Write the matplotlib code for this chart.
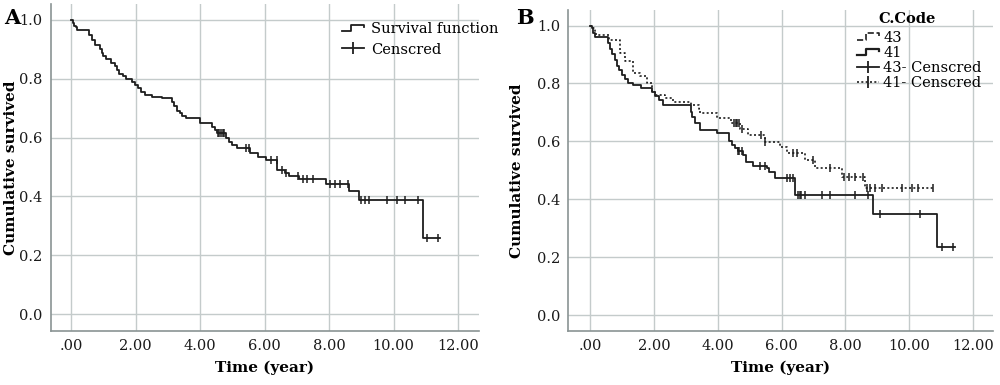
import numpy as np
import matplotlib
matplotlib.use("Agg")
import matplotlib.pyplot as plt
from matplotlib.lines import Line2D
from matplotlib.legend_handler import HandlerBase

plt.rcParams['font.family'] = ['DejaVu Serif']

# ---- panel A: whole cohort ----
a_times = [0.05, 0.10, 0.15, 0.20, 0.55, 0.65, 0.75, 0.90, 0.95, 1.00, 1.10, 1.25,
           1.35, 1.42, 1.50, 1.60, 1.70, 1.90, 1.97, 2.07, 2.17, 2.30, 2.50, 2.82,
           3.12, 3.20, 3.30, 3.38, 3.45, 3.55, 4.00, 4.38, 4.45, 4.52, 4.80, 4.90,
           5.00, 5.15, 5.55, 5.80, 6.05, 6.40, 6.62, 6.75, 7.08, 7.90, 8.62, 8.92,
           10.92]
a_surv = [0.99, 0.98, 0.975, 0.965, 0.948, 0.93, 0.915, 0.90, 0.887, 0.876, 0.865, 0.853,
          0.842, 0.83, 0.814, 0.808, 0.80, 0.79, 0.778, 0.767, 0.755, 0.744, 0.739, 0.733,
          0.722, 0.706, 0.689, 0.682, 0.673, 0.665, 0.65, 0.637, 0.625, 0.614, 0.597, 0.586,
          0.575, 0.563, 0.546, 0.535, 0.524, 0.49, 0.48, 0.47, 0.458, 0.441, 0.419, 0.388,
          0.258]
a_end = 11.45
a_cens = [4.55, 4.60, 4.65, 4.70, 4.75, 5.42, 5.52, 6.20, 6.38, 6.55, 6.66, 7.05,
          7.20, 7.31, 7.51, 8.03, 8.19, 8.34, 8.58, 8.98, 9.12, 9.25, 9.79, 10.10,
          10.36, 10.77, 11.03, 11.39]

# ---- panel B: C.Code 41 (solid) ----
b41_times = [0.05, 0.10, 0.15, 0.57, 0.62, 0.70, 0.78, 0.85, 0.92, 1.00, 1.10, 1.20,
             1.35, 1.60, 1.95, 2.05, 2.15, 2.30, 3.15, 3.20, 3.30, 3.45, 3.97, 4.36,
             4.45, 4.55, 4.62, 4.78, 4.88, 5.10, 5.55, 5.60, 5.80, 6.42, 8.87, 10.87]
b41_surv = [0.99, 0.975, 0.96, 0.94, 0.92, 0.90, 0.88, 0.86, 0.847, 0.83, 0.815, 0.80,
            0.795, 0.783, 0.772, 0.755, 0.743, 0.726, 0.70, 0.685, 0.662, 0.64, 0.628, 0.60,
            0.588, 0.576, 0.565, 0.553, 0.53, 0.516, 0.507, 0.495, 0.472, 0.416, 0.349, 0.236]
b41_end = 11.43
b41_cens = [4.62, 4.68, 4.75, 5.32, 5.48, 6.16, 6.26, 6.37, 6.52, 6.57, 6.62, 6.73,
            7.25, 7.51, 8.30, 8.71, 9.08, 10.33, 11.01, 11.37]

# ---- panel B: C.Code 43 (dotted) ----
b43_times = [0.05, 0.15, 0.20, 0.60, 0.95, 1.10, 1.35, 1.55, 1.78, 1.95, 2.05, 2.35,
             2.60, 3.15, 3.40, 3.45, 3.97, 4.43, 4.70, 4.96, 5.48, 5.95, 6.16, 6.73,
             7.04, 7.88, 8.61]
b43_surv = [0.99, 0.975, 0.968, 0.95, 0.904, 0.876, 0.835, 0.824, 0.80, 0.772, 0.76, 0.748,
            0.737, 0.725, 0.71, 0.697, 0.68, 0.663, 0.642, 0.622, 0.599, 0.582, 0.559, 0.536,
            0.507, 0.478, 0.438]
b43_end = 10.75
b43_cens = [4.50, 4.56, 4.61, 4.66, 4.75, 5.37, 5.48, 6.37, 6.47, 6.99, 7.51, 7.95,
            8.10, 8.30, 8.56, 8.66, 8.77, 8.92, 9.13, 9.76, 10.07, 10.28, 10.75]

x_ticks = [0, 2, 4, 6, 8, 10, 12]
x_labels = ['.00', '2.00', '4.00', '6.00', '8.00', '10.00', '12.00']
y_ticks = [0.0, 0.2, 0.4, 0.6, 0.8, 1.0]

INK = '#1e1e1e'
DOT = (0, (1.2, 1.4))


def km_curve(times, surv, end):
    t = np.array([0.0] + list(times) + [end])
    s = np.array([1.0] + list(surv) + [surv[-1]])
    return t, s


def surv_at(t, s, pts):
    idx = np.searchsorted(t, pts, side='right') - 1
    return s[idx]


class StepHandler(HandlerBase):
    def create_artists(self, legend, orig, x0, y0, width, height, fontsize, trans):
        xs = [x0, x0 + width * 0.4, x0 + width * 0.4, x0 + width, x0 + width]
        ys = [y0 + height * 0.15, y0 + height * 0.15, y0 + height * 0.8,
              y0 + height * 0.8, y0 + height * 0.55]
        ln = Line2D(xs, ys, color=orig.get_color(), linestyle=orig.get_linestyle(),
                    linewidth=orig.get_linewidth(), transform=trans)
        return [ln]


def style_axes(ax, xlim, ylim, ypad):
    ax.set_xlim(*xlim)
    ax.set_ylim(*ylim)
    ax.set_xticks(x_ticks)
    ax.set_xticklabels(x_labels)
    ax.set_yticks(y_ticks)
    ax.set_yticklabels([f'{v:.1f}' for v in y_ticks])
    ax.grid(True, color='#c4cbcb', linewidth=1.0)
    ax.set_axisbelow(True)
    for side in ['top', 'right']:
        ax.spines[side].set_visible(False)
    for side in ['left', 'bottom']:
        ax.spines[side].set_color('#8a9494')
        ax.spines[side].set_linewidth(1.2)
    ax.tick_params(length=0, labelsize=10.5, colors='#1a1a1a', pad=6)
    ax.set_xlabel('Time (year)', fontsize=11, fontweight='bold', labelpad=5)
    ax.set_ylabel('Cumulative survived', fontsize=11, fontweight='bold', labelpad=ypad)


fig = plt.figure(figsize=(10, 3.85), dpi=100)

# panel A
axA = fig.add_axes([0.0507, 0.1403, 0.4283, 0.849])
t, s = km_curve(a_times, a_surv, a_end)
axA.step(t, s, where='post', color=INK, linewidth=1.3)
axA.plot(a_cens, surv_at(t, s, a_cens), linestyle='none', marker='|',
         markersize=6, markeredgewidth=1.1, color=INK)
style_axes(axA, (-0.63, 12.65), (-0.057, 1.053), 1)

hA = [Line2D([], [], color=INK, linewidth=1.3),
      Line2D([], [], color=INK, linewidth=1.3, marker='|', markersize=8, markeredgewidth=1.3)]
fig.legend(hA, ['Survival function', 'Censcred'], loc='upper left',
           bbox_to_anchor=(0.329, 0.977), frameon=False, fontsize=10.5,
           handlelength=1.5, handletextpad=0.5, labelspacing=0.45,
           handler_map={hA[0]: StepHandler()})
fig.text(0.004, 0.953, 'A', fontsize=15, fontweight='bold', va='center')

# panel B
axB = fig.add_axes([0.5683, 0.1403, 0.4247, 0.834])
t43, s43 = km_curve(b43_times, b43_surv, b43_end)
t41, s41 = km_curve(b41_times, b41_surv, b41_end)
axB.step(t43, s43, where='post', color=INK, linewidth=1.2, linestyle=DOT)
axB.step(t41, s41, where='post', color=INK, linewidth=1.3)
axB.plot(b43_cens, surv_at(t43, s43, b43_cens), linestyle='none', marker='|',
         markersize=6, markeredgewidth=1.1, color=INK)
axB.plot(b41_cens, surv_at(t41, s41, b41_cens), linestyle='none', marker='|',
         markersize=6, markeredgewidth=1.1, color=INK)
style_axes(axB, (-0.68, 12.62), (-0.055, 1.054), 9)

hB = [Line2D([], [], color=INK, linewidth=1.2, linestyle=DOT),
      Line2D([], [], color=INK, linewidth=1.6),
      Line2D([], [], color=INK, linewidth=1.3, marker='|', markersize=8, markeredgewidth=1.3),
      Line2D([], [], color=INK, linewidth=1.2, linestyle=DOT, marker='|',
             markersize=8, markeredgewidth=1.3)]
fig.legend(hB, ['43', '41', '43- Censcred', '41- Censcred'], loc='upper left',
           bbox_to_anchor=(0.847, 0.947), frameon=False, fontsize=10.5,
           handlelength=1.5, handletextpad=0.3, labelspacing=0.08,
           borderpad=0.2, handler_map={hB[0]: StepHandler(), hB[1]: StepHandler()})
fig.text(0.878, 0.951, 'C.Code', fontsize=10.5, fontweight='bold', va='center')
fig.text(0.516, 0.953, 'B', fontsize=15, fontweight='bold', va='center')

fig.savefig('out.png', dpi=100)
